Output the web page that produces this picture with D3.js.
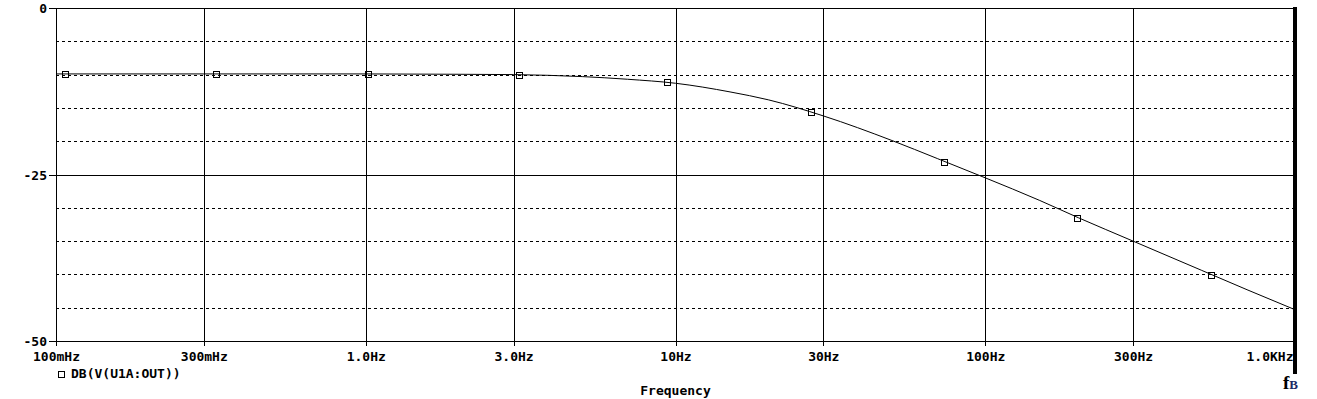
<!DOCTYPE html>
<html>
<head>
<meta charset="utf-8">
<script src="https://cdn.jsdelivr.net/npm/d3@7"></script>
<style>
    body { margin: 0; background: #fff; }
    svg text { font-family: "DejaVu Sans Mono", monospace; font-weight: bold; font-size: 13px; fill: #000; }
    .grid line { shape-rendering: crispEdges; }
</style>
</head>
<body>
<div id="graph"></div>
<script>
var WIDTH = 1317;
var HEIGHT = 399;

// x axis ticks (Hz) and their labels
var xTicks = [0.1, 0.3, 1, 3, 10, 30, 100, 300, 1000];
var xLabels = ["100mHz", "300mHz", "1.0Hz", "3.0Hz", "10Hz", "30Hz", "100Hz", "300Hz", "1.0KHz"];

// y axis: labelled ticks, and the dashed minor grid
var yTicks = [0, -25, -50];
var yLabels = ["0", "-25", "-50"];
var yDashed = [-5, -10, -15, -20, -30, -35, -40, -45];

// trace DB(V(U1A:OUT))
var freq = [0.1, 0.3, 1, 2, 3, 5, 7, 10, 15, 20, 30, 50, 70, 100, 150, 200, 300, 500, 700, 1000];
var gain = [-9.9, -9.9, -9.9, -9.95, -10.0, -10.3, -10.7, -11.3, -12.6, -13.8, -16.2, -19.9, -22.6, -25.5, -28.9, -31.5, -35.0, -39.4, -42.3, -45.3];

// marker squares on the trace
var markFreq = [0.107, 0.329, 1.02, 3.13, 9.42, 27.3, 73.4, 197.6, 535];
var markGain = [-9.9, -9.9, -9.9, -10.0, -11.1, -15.6, -23.1, -31.5, -40.1];

var svg = d3.select("#graph").append("svg")
    .attr("width", WIDTH)
    .attr("height", HEIGHT);

var x = d3.scaleLog().domain([0.1, 1000]).range([56, 1295]);
var y = d3.scaleLinear().domain([-50, 0]).range([341, 8]);

function px(v) { return Math.round(v) + 0.5; }

/* Grid */

var grid = svg.append("g").attr("class", "grid");

grid.selectAll("line.v")
    .data(xTicks)
    .enter().append("line")
    .attr("class", "v")
    .attr("x1", function(d) { return px(x(d)); })
    .attr("x2", function(d) { return px(x(d)); })
    .attr("y1", y(0))
    .attr("y2", y(-50))
    .attr("stroke", "#000");

grid.selectAll("line.dash")
    .data(yDashed)
    .enter().append("line")
    .attr("class", "dash")
    .attr("x1", x(0.1))
    .attr("x2", x(1000))
    .attr("y1", function(d) { return px(y(d)); })
    .attr("y2", function(d) { return px(y(d)); })
    .attr("stroke", "#000")
    .attr("stroke-dasharray", "3,3");

grid.selectAll("line.h")
    .data(yTicks)
    .enter().append("line")
    .attr("class", "h")
    .attr("x1", x(0.1))
    .attr("x2", x(1000))
    .attr("y1", function(d) { return px(y(d)); })
    .attr("y2", function(d) { return px(y(d)); })
    .attr("stroke", "#000");

/* Axes */

var xAxis = svg.append("g")
    .attr("class", "grid")
    .attr("transform", "translate(0," + Math.round(y(-50)) + ")")
    .call(d3.axisBottom(x)
        .tickValues(xTicks)
        .tickFormat(function(d, i) { return xLabels[i]; })
        .tickSize(5));
xAxis.select(".domain").remove();
xAxis.selectAll("text")
    .attr("dy", null)
    .attr("y", 20);
// last label is pulled inside the plot so it ends at the edge
xAxis.selectAll("text")
    .filter(function(d) { return d === 1000; })
    .attr("text-anchor", "end")
    .attr("x", -2);

var yAxis = svg.append("g")
    .attr("class", "grid")
    .attr("transform", "translate(" + Math.round(x(0.1)) + ",0)")
    .call(d3.axisLeft(y)
        .tickValues(yTicks)
        .tickFormat(function(d, i) { return yLabels[i]; })
        .tickSize(7)
        .tickPadding(2));
yAxis.select(".domain").remove();
yAxis.selectAll("text").attr("dy", "0.36em");
svg.selectAll(".tick text").attr("fill", "#000");

/* Trace */

var pts = freq.map(function(f, i) { return [f, gain[i]]; });

var line = d3.line()
    .x(function(d) { return x(d[0]); })
    .y(function(d) { return y(d[1]); })
    .curve(d3.curveMonotoneX);

svg.append("path")
    .datum(pts)
    .attr("fill", "none")
    .attr("stroke", "#000")
    .attr("stroke-width", 1)
    .attr("d", line);

svg.append("g")
    .selectAll("rect")
    .data(markFreq)
    .enter().append("rect")
    .attr("x", function(d) { return Math.round(x(d)) - 3 + 0.5; })
    .attr("y", function(d, i) { return Math.round(y(markGain[i])) - 3 + 0.5; })
    .attr("width", 6)
    .attr("height", 6)
    .attr("fill", "none")
    .attr("stroke", "#000")
    .attr("shape-rendering", "crispEdges");

// cursor bar at the right edge
svg.append("rect")
    .attr("x", 1293)
    .attr("y", 7)
    .attr("width", 4)
    .attr("height", 367)
    .attr("fill", "#000");

/* Legend and titles */

svg.append("rect")
    .attr("x", 58.5)
    .attr("y", 371.5)
    .attr("width", 6)
    .attr("height", 6)
    .attr("fill", "none")
    .attr("stroke", "#000")
    .attr("shape-rendering", "crispEdges");

svg.append("text")
    .attr("x", 71)
    .attr("y", 378)
    .text("DB(V(U1A:OUT))");

svg.append("text")
    .attr("x", (x(0.1) + x(1000)) / 2)
    .attr("y", 395)
    .attr("text-anchor", "middle")
    .text("Frequency");

var fb = svg.append("text")
    .attr("x", 1283)
    .attr("y", 389)
    .style("font-family", "'Liberation Serif', serif")
    .style("font-weight", "bold");
fb.append("tspan")
    .style("font-size", "19px")
    .text("f");
fb.append("tspan")
    .style("font-size", "13px")
    .style("fill", "#1c2a66")
    .text("B");
</script>
</body>
</html>
